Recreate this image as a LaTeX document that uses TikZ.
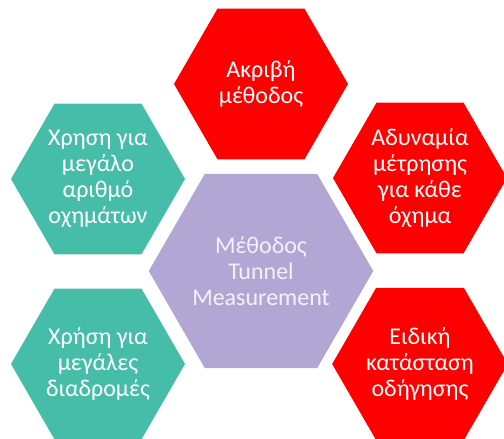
\documentclass[tikz,border=0pt]{standalone}
\usepackage{fontspec}
\setmainfont{Carlito}
\usetikzlibrary{shapes.geometric}
\definecolor{hexRed}{RGB}{255,0,0}
\definecolor{hexTeal}{RGB}{70,189,168}
\definecolor{hexLilac}{RGB}{178,166,212}
\begin{document}
\begin{tikzpicture}[x=1pt, y=-1pt,
    hex/.style={regular polygon, regular polygon sides=6, inner sep=0pt, outer sep=0pt,
        align=center, text=white, font=\fontsize{24}{26}\selectfont},
    hexred/.style={hex, fill=hexRed, minimum size=174pt},
    hexteal/.style={hex, fill=hexTeal, minimum size=174pt},
    hexcenter/.style={hex, fill=hexLilac, minimum size=216pt, text=white!85!hexLilac}]
    \useasboundingbox (0,0) rectangle (504,439);

    % Central method
    \node[hexcenter] (method) at (261,271) {Μέθοδος\\Tunnel\\Measurement};

    % Red cells (top and right)
    \node[hexred] (accurate) at (261,84) {Ακριβή\\μέθοδος};
    \node[hexred] (weakness) at (420,178) {Αδυναμία\\μέτρησης\\για κάθε\\όχημα};
    \node[hexred] (special) at (420,364) {Ειδική\\κατάσταση\\οδήγησης};

    % Teal cells (left)
    \node[hexteal] (manycars) at (98,179) {Χρηση για\\μεγάλο\\αριθμό\\οχημάτων};
    \node[hexteal] (longroutes) at (98,364) {Χρήση για\\μεγάλες\\διαδρομές};
\end{tikzpicture}
\end{document}
